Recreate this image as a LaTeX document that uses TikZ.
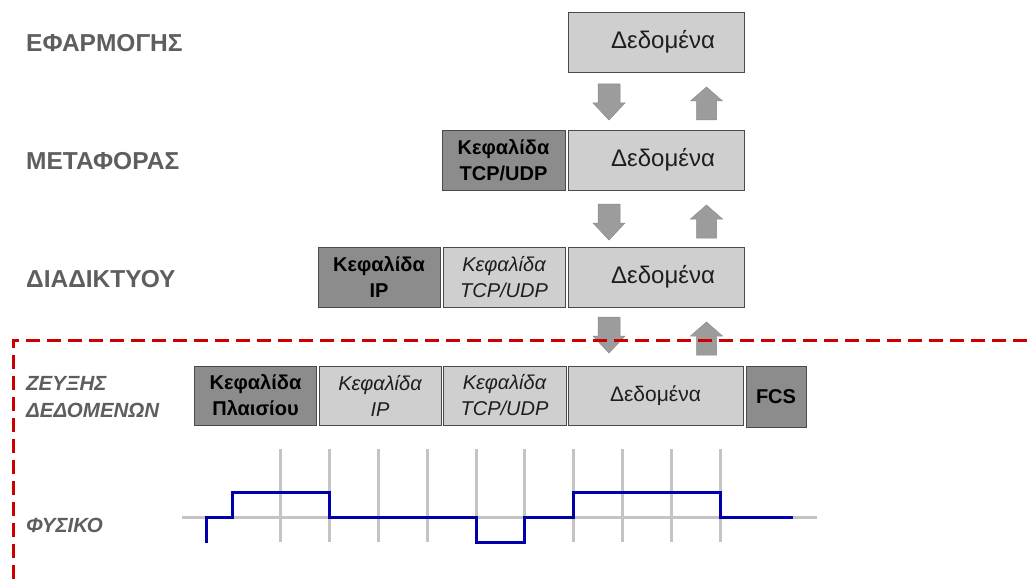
\documentclass[tikz,border=0pt]{standalone}
\usepackage{fontspec}
\setmainfont{Liberation Sans}
\definecolor{labgray}{HTML}{5E5E5E}
\definecolor{lightfill}{HTML}{CFCFCF}
\definecolor{darkfill}{HTML}{8C8C8C}
\definecolor{boxline}{HTML}{4A4A4A}
\definecolor{textdark}{HTML}{1E1E1E}
\definecolor{arrowfill}{HTML}{9C9C9C}
\definecolor{arrowline}{HTML}{8A8A8A}
\definecolor{gridgray}{HTML}{C4C4C4}
\definecolor{sigblue}{HTML}{0000AA}
\definecolor{dashred}{HTML}{CC0000}
\begin{document}
\begin{tikzpicture}[x=1pt,y=-1pt,
  lay/.style={text=labgray, font=\bfseries\fontsize{24.5}{26}\selectfont, anchor=base west, inner sep=0},
  layi/.style={text=labgray, font=\bfseries\itshape\fontsize{20.5}{26}\selectfont, anchor=base west, inner sep=0},
  boxbase/.style={draw=boxline, line width=0.8pt, minimum height=60pt, inner sep=0, align=center, text=textdark},
  databox/.style={boxbase, fill=lightfill, minimum width=176pt},
  hdrbox/.style={boxbase, fill=darkfill, minimum width=123pt, text=black, font=\bfseries\fontsize{20}{26}\selectfont},
  ihdrbox/.style={boxbase, fill=lightfill, minimum width=123pt, font=\itshape\fontsize{20}{26}\selectfont},
  datatext/.style={font=\fontsize{24}{26}\selectfont, text=textdark, inner sep=0},
  dnarrow/.pic={\path[fill=arrowfill, draw=arrowline, line width=0.5pt]
     (-11,0) -- (11,0) -- (11,19) -- (16,19) -- (0,36) -- (-16,19) -- (-11,19) -- cycle;},
  uparrow/.pic={\path[fill=arrowfill, draw=arrowline, line width=0.5pt]
     (-10,0) -- (10,0) -- (10,-19) -- (16,-19) -- (0,-33) -- (-16,-19) -- (-10,-19) -- cycle;},
  gridline/.style={draw=gridgray, line width=3pt},
  signal/.style={draw=sigblue, line width=3pt, line join=miter},
  reddash/.style={draw=dashred, line width=3pt, dash pattern=on 14pt off 7pt},
]
\useasboundingbox (0,0) rectangle (1027,580);

% layer labels
\node[lay] (l1) at (26,52) {ΕΦΑΡΜΟΓΗΣ};
\node[lay] (l2) at (26,170) {ΜΕΤΑΦΟΡΑΣ};
\node[lay] (l3) at (26,287) {ΔΙΑΔΙΚΤΥΟΥ};
\node[layi] (l4a) at (26,390) {ΖΕΥΞΗΣ};
\node[layi] (l4b) at (26,417) {ΔΕΔΟΜΕΝΩΝ};
\node[layi] (l5) at (26,532) {ΦΥΣΙΚΟ};

% row 1
\node[databox] (d1) at (656,42) {};
\node[datatext] (d1t) at (663,42) {Δεδομένα};
% row 2
\node[hdrbox] (h2) at (503.5,160) {Κεφαλίδα\\TCP/UDP};
\node[databox] (d2) at (656,160) {};
\node[datatext] (d2t) at (663,160) {Δεδομένα};
% row 3
\node[hdrbox, minimum width=122pt] (h3) at (379,277) {Κεφαλίδα\\IP};
\node[ihdrbox, minimum width=122pt] (t3) at (504,277) {Κεφαλίδα\\TCP/UDP};
\node[databox] (d3) at (656,277) {};
\node[datatext] (d3t) at (663,277) {Δεδομένα};
% row 4
\node[hdrbox, minimum width=122pt, minimum height=59pt] (p4) at (255.5,395.5) {Κεφαλίδα\\Πλαισίου};
\node[ihdrbox, minimum width=122pt, minimum height=59pt] (i4) at (380,395.5) {Κεφαλίδα\\IP};
\node[ihdrbox, minimum height=59pt] (t4) at (504.5,395.5) {Κεφαλίδα\\TCP/UDP};
\node[databox, minimum width=175pt, minimum height=59pt, font=\fontsize{21}{24}\selectfont] (d4) at (655.5,395.5) {Δεδομένα};
\node[hdrbox, minimum width=60pt, minimum height=61pt] (f4) at (776,396.5) {FCS};

% block arrows between layers
\pic at (609,84) {dnarrow};
\pic at (706.5,120) {uparrow};
\pic at (609,204) {dnarrow};
\pic at (706.5,238) {uparrow};
\pic at (609,317) {dnarrow};
\pic at (706.5,355) {uparrow};

% physical layer signal
\draw[gridline] (182,517) -- (817,517);
\foreach \gx in {280,329,378,427,476,524,573,622,671,720}
  \draw[gridline] (\gx,449) -- (\gx,542);
\draw[signal] (206,543) -- (206,517) -- (232,517) -- (232,492) -- (329,492) -- (329,517)
  -- (476,517) -- (476,542) -- (524,542) -- (524,517) -- (573,517) -- (573,492)
  -- (720,492) -- (720,517) -- (793,517);

% data link / physical boundary
\draw[reddash] (1027,340) -- (13,340) -- (13,580);
\end{tikzpicture}
\end{document}
